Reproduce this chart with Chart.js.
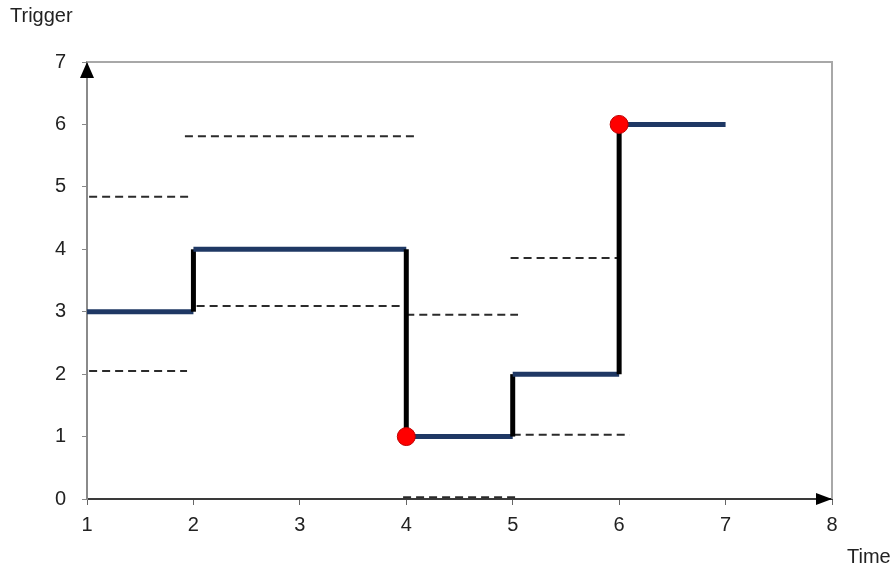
<!DOCTYPE html>
<html>
<head>
<meta charset="utf-8">
<script src="https://cdn.jsdelivr.net/npm/chart.js@4"></script>
<style>
  html, body { margin: 0; padding: 0; background: #fff; }
  #wrap { width: 896px; height: 569px; position: relative; }
</style>
</head>
<body>
<div id="wrap"><canvas id="chart"></canvas></div>
<script>
// step path corners (time, trigger level)
const stepTimes  = [1, 2, 2, 4, 4, 5, 5, 6, 6, 7];
const stepLevels = [3, 3, 4, 4, 1, 1, 2, 2, 6, 6];

// red markers
const markTimes  = [4, 6];
const markLevels = [1, 6];

// dashed threshold lines: level, start time, end time
const dashLevels = [4.84, 2.05, 5.81, 3.09, 2.95, 0.03, 3.86, 1.03];
const dashStarts = [1.02, 1.02, 1.92, 2.03, 4.0, 3.97, 4.98, 5.0];
const dashEnds   = [1.95, 1.94, 4.11, 3.99, 5.05, 5.04, 6.0, 6.1];

const xTicks = [1, 2, 3, 4, 5, 6, 7, 8];
const yTicks = [0, 1, 2, 3, 4, 5, 6, 7];

const fontFamily = "'Liberation Sans', Arial, sans-serif";

let dashSets = dashLevels.map((lv, i)=>({
    type: "line",
    data: [{x: dashStarts[i], y: lv}, {x: dashEnds[i], y: lv}],
    borderColor: "#2b2b2b",
    borderWidth: 2,
    borderDash: [8, 5],
    pointRadius: 0,
    order: 3,
}));

// frame, arrows and axis names
const framePlugin = {
    id: "frame",
    afterDraw: (chart)=>{
        let ctx = chart.ctx;
        let a = chart.chartArea;
        ctx.save();
        ctx.strokeStyle = "#a8a8a8";
        ctx.lineWidth = 2;
        ctx.beginPath();
        ctx.moveTo(a.left, a.top);
        ctx.lineTo(a.right, a.top);
        ctx.lineTo(a.right, a.bottom);
        ctx.stroke();
        ctx.fillStyle = "#000";
        // y arrow
        ctx.beginPath();
        ctx.moveTo(a.left, a.top);
        ctx.lineTo(a.left - 7, a.top + 16);
        ctx.lineTo(a.left + 7, a.top + 16);
        ctx.closePath();
        ctx.fill();
        // x arrow
        ctx.beginPath();
        ctx.moveTo(a.right, a.bottom);
        ctx.lineTo(a.right - 16, a.bottom - 6);
        ctx.lineTo(a.right - 16, a.bottom + 6);
        ctx.closePath();
        ctx.fill();
        ctx.font = "20px " + fontFamily;
        ctx.fillStyle = "#222";
        ctx.textBaseline = "alphabetic";
        ctx.textAlign = "left";
        ctx.fillText("Trigger", 10, 22);
        ctx.fillText("Time", 847, 563);
        ctx.restore();
    }
};

new Chart(document.getElementById("chart"), {
    type: "line",
    data: {
        datasets: [
            {
                data: markTimes.map((t, i)=>({x: t, y: markLevels[i]})),
                showLine: false,
                pointRadius: 9,
                pointBackgroundColor: "#ff0000",
                pointBorderColor: "#c00000",
                pointBorderWidth: 1,
                order: 0,
            },
            {
                data: stepTimes.map((t, i)=>({x: t, y: stepLevels[i]})),
                borderWidth: 5,
                borderColor: "#1f3864",
                pointRadius: 0,
                segment: {
                    borderColor: (c)=>(c.p0.parsed.x === c.p1.parsed.x ? "#000" : "#1f3864"),
                },
                order: 1,
            },
            ...dashSets,
        ],
    },
    options: {
        responsive: true,
        maintainAspectRatio: false,
        animation: false,
        events: [],
        layout: { padding: { top: 62, right: 64, left: 0, bottom: 0 } },
        plugins: { legend: { display: false }, tooltip: { enabled: false } },
        scales: {
            x: {
                type: "linear",
                min: 1,
                max: 8,
                afterBuildTicks: (s)=>{ s.ticks = xTicks.map(v=>({value: v})); },
                afterFit: (s)=>{ s.height = 70; },
                ticks: { color: "#222", padding: 8, font: { size: 20, family: fontFamily } },
                grid: { drawOnChartArea: false, drawTicks: true, tickLength: 6, tickColor: "#666", lineWidth: 1 },
                border: { display: true, color: "#3a3a3a", width: 2 },
            },
            y: {
                min: 0,
                max: 7,
                afterBuildTicks: (s)=>{ s.ticks = yTicks.map(v=>({value: v})); },
                afterFit: (s)=>{ s.width = 87; },
                ticks: { color: "#222", padding: 16, font: { size: 20, family: fontFamily } },
                grid: { drawOnChartArea: false, drawTicks: true, tickLength: 5, tickColor: "#888", lineWidth: 1 },
                border: { display: true, color: "#8a8a8a", width: 2 },
            },
        },
    },
    plugins: [framePlugin],
});
</script>
</body>
</html>
